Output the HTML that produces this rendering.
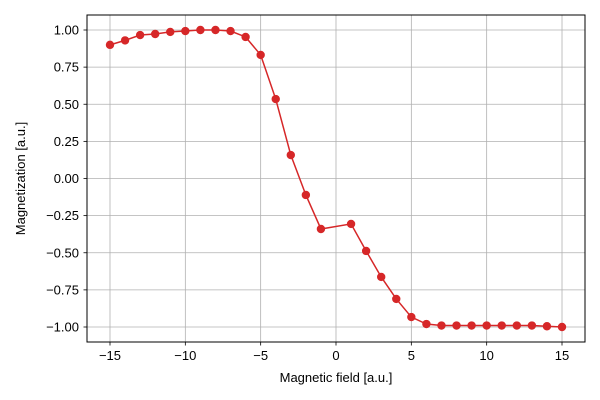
<!DOCTYPE html>
<html><head><meta charset="utf-8"><style>
html,body{margin:0;padding:0;background:#fff;}
svg{display:block;font-family:"Liberation Sans","DejaVu Sans",sans-serif;}
</style></head><body>
<svg id="chart" width="600" height="400" viewBox="0 0 600 400">
<rect x="87" y="15" width="498" height="327" fill="#fff"/>
<g id="grid"></g>
<g id="axes"></g>
<g id="series"></g>
<rect x="87" y="15" width="498" height="327" fill="none" stroke="#000" stroke-width="1"/>
<text x="336" y="382" text-anchor="middle" font-size="13">Magnetic field [a.u.]</text>
<text transform="translate(25,178.5) rotate(-90)" text-anchor="middle" font-size="13">Magnetization [a.u.]</text>
</svg>
<script>
const fieldValues = [-15,-14,-13,-12,-11,-10,-9,-8,-7,-6,-5,-4,-3,-2,-1,1,2,3,4,5,6,7,8,9,10,11,12,13,14,15];
const magnetization = [0.90,0.93,0.966,0.973,0.987,0.993,1.0,1.0,0.993,0.953,0.832,0.535,0.158,-0.111,-0.34,-0.306,-0.488,-0.663,-0.811,-0.933,-0.98,-0.99,-0.99,-0.99,-0.99,-0.99,-0.99,-0.99,-0.995,-1.0];
const xTicks = [-15,-10,-5,0,5,10,15];
const xTickLabels = ["\u221215","\u221210","\u22125","0","5","10","15"];
const yTicks = [1,0.75,0.5,0.25,0,-0.25,-0.5,-0.75,-1];
const yTickLabels = ["1.00","0.75","0.50","0.25","0.00","\u22120.25","\u22120.50","\u22120.75","\u22121.00"];

const NS = "http://www.w3.org/2000/svg";
function xs(v){ return 336 + v*15.067; }
function ys(v){ return 178.5 - v*148.5; }
function mk(tag, attrs, parent){ const e=document.createElementNS(NS,tag); for(const k in attrs) e.setAttribute(k,attrs[k]); parent.appendChild(e); return e; }
const grid=document.getElementById('grid'), axes=document.getElementById('axes'), series=document.getElementById('series');

xTicks.forEach((t,i)=>{
  const x=xs(t);
  const g=mk('line',{x1:x,x2:x,y1:15,y2:342,stroke:'#b0b0b0','stroke-width':0.8},grid);
  
  
  const tk=mk('line',{x1:x,x2:x,y1:342,y2:345.5,stroke:'#000','stroke-width':0.8},axes);
  
  
  const lb=mk('text',{x:x,y:360,'text-anchor':'middle','font-size':13},axes);
  lb.textContent=xTickLabels[i];
  
  
});
yTicks.forEach((t,i)=>{
  const y=ys(t);
  const g=mk('line',{x1:87,x2:585,y1:y,y2:y,stroke:'#b0b0b0','stroke-width':0.8},grid);
  
  
  const tk=mk('line',{x1:83.5,x2:87,y1:y,y2:y,stroke:'#000','stroke-width':0.8},axes);
  
  
  const lb=mk('text',{x:79,y:y+4.5,'text-anchor':'end','font-size':13},axes);
  lb.textContent=yTickLabels[i];
  
  
});
const pts=fieldValues.map((f,i)=>xs(f)+','+ys(magnetization[i])).join(' ');
const line=mk('polyline',{points:pts,fill:'none',stroke:'#d62728','stroke-width':1.5},series);


fieldValues.forEach((f,i)=>{
  const c=mk('circle',{cx:xs(f),cy:ys(magnetization[i]),r:4.2,fill:'#d62728'},series);
  
  
});
</script>
</body></html>
